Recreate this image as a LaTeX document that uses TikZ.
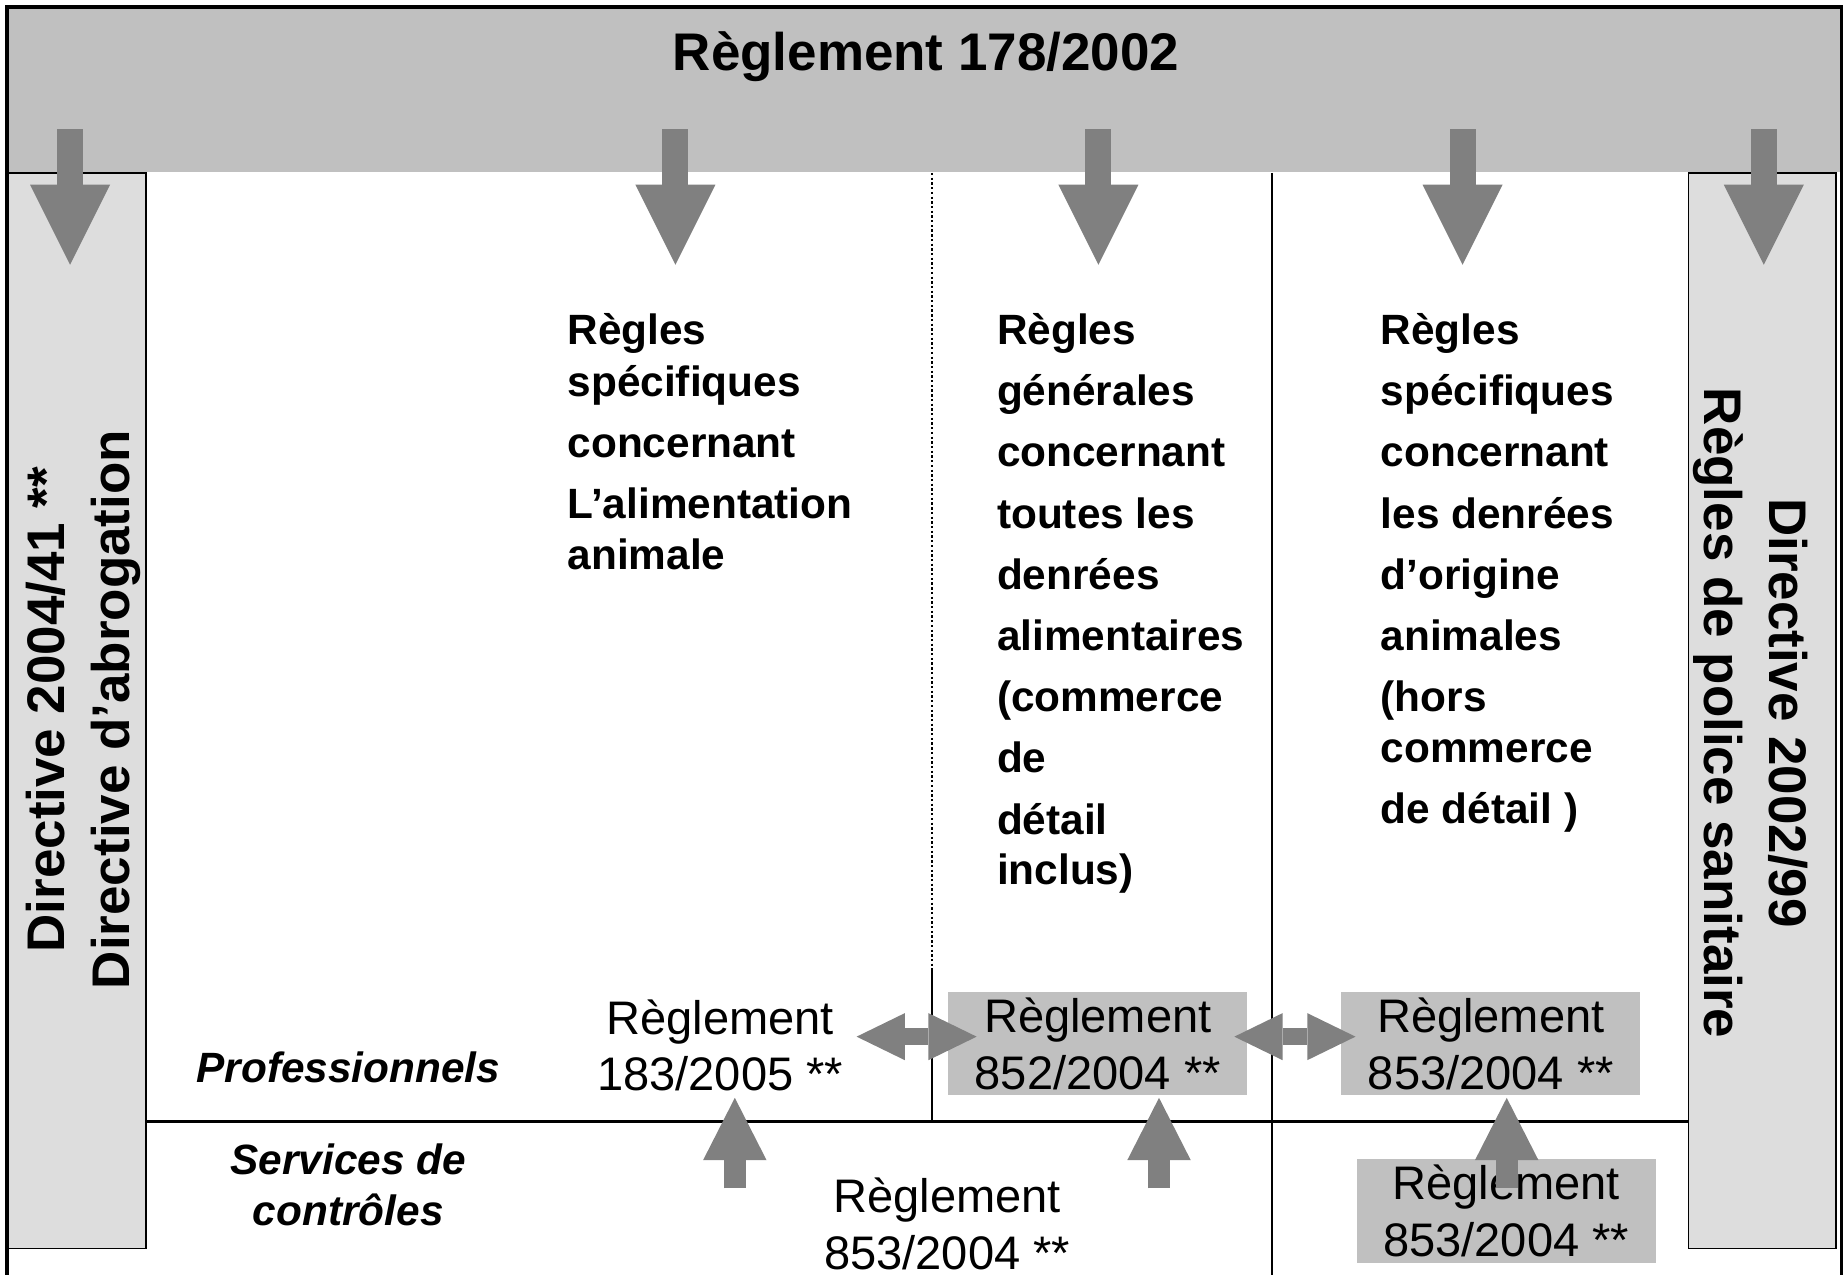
\documentclass[tikz,border=0pt]{standalone}
\usepackage{fontspec}
\setmainfont{Liberation Sans}
\usetikzlibrary{arrows.meta, positioning}
\definecolor{bannergray}{RGB}{192,192,192}
\definecolor{sidegray}{RGB}{221,221,221}
\definecolor{arrowgray}{RGB}{128,128,128}
\definecolor{boxgray}{RGB}{192,192,192}

\begin{document}
\begin{tikzpicture}[x=0.5pt, y=-0.5pt,
    downarrow/.style={draw=arrowgray, line width=11pt, -{Triangle[length=34pt, width=34pt, line width=0pt]}},
    uparrow/.style={draw=arrowgray, line width=9.5pt, -{Triangle[length=26.5pt, width=27pt, line width=0pt]}},
    dblarrow/.style={draw=arrowgray, line width=7pt, {Triangle[length=20.5pt, width=20pt, line width=0pt]}-{Triangle[length=20.5pt, width=20pt, line width=0pt]}},
    side/.style={fill=sidegray, draw=black, line width=0.8pt},
    rules/.style={anchor=north west, align=left, inner sep=0pt, font=\fontsize{18}{26}\selectfont\bfseries},
    reg/.style={align=center, inner sep=0pt, font=\fontsize{20}{24}\selectfont},
    regbox/.style={reg, fill=boxgray, minimum width=127pt, minimum height=44pt},
    vtitle/.style={align=center, inner sep=0pt, font=\fontsize{22.5}{27.5}\selectfont\bfseries},
    actor/.style={align=center, inner sep=0pt, font=\fontsize{18}{21.5}\selectfont\bfseries\itshape}]
    \useasboundingbox (0,0) rectangle (1568,1083);
    \clip (0,0) rectangle (1568,1083);

    % Frames
    \fill[bannergray] (6,6) rectangle (1565,146);
    \draw[side] (6,147) rectangle (124,1061);
    \draw[side] (1435,147) rectangle (1560,1061);
    \draw[line width=1.4pt] (6,6) rectangle (1565,1120);

    % Separators
    \draw[line width=1pt, dash pattern=on 1pt off 1pt] (792,147) -- (792,823);
    \draw[line width=1pt] (792,823) -- (792,953);
    \draw[line width=1pt] (1081,147) -- (1081,1120);
    \draw[line width=1.4pt] (124,953) -- (1435,953);

    % Labels
    \node[anchor=base, inner sep=0pt, font=\fontsize{22.5}{27}\selectfont\bfseries] (title) at (787,60) {Règlement 178/2002};
    \node[vtitle, rotate=90] (dir41) at (71,603) {Directive 2004/41 **\\Directive d’abrogation};
    \node[vtitle, rotate=-90] (dir99) at (1488,606) {Directive 2002/99\\Règles de police sanitaire};

    \node[rules] (feed) at (482,266) {Règles\\[-4pt] spécifiques\\[0pt] concernant\\ L’alimentation\\[-4.5pt] animale};
    \node[rules] (general) at (847,266) {Règles\\ générales\\ concernant\\ toutes les\\ denrées\\ alimentaires\\ (commerce\\ de\\ détail\\[-4.5pt] inclus)};
    \node[rules] (animal) at (1173,266) {Règles\\ spécifiques\\ concernant\\ les denrées\\ d’origine\\ animales\\ (hors\\[-4.5pt] commerce\\ de détail )};

    \node[actor, anchor=base] (pro) at (296,920) {Professionnels};
    \node[actor, anchor=north] (ctrl) at (296,972) {Services de\\ contrôles};

    % Regulations
    \node[reg, anchor=north] (r183) at (612,849) {Règlement\\ 183/2005 **};
    \node[regbox] (r852) at (933,887) {Règlement\\ 852/2004 **};
    \node[regbox] (r853a) at (1267,887) {Règlement\\ 853/2004 **};
    \node[reg, anchor=north] (r882) at (805,1001) {Règlement\\ 853/2004 **};
    \node[regbox] (r853b) at (1280,1029) {Règlement\\ 853/2004 **};

    % Arrows
    \coordinate (d1) at (59.5,110);  \coordinate (e1) at (59.5,225);
    \coordinate (d2) at (574,110);   \coordinate (e2) at (574,225);
    \coordinate (d3) at (933.5,110); \coordinate (e3) at (933.5,225);
    \coordinate (d4) at (1243,110);  \coordinate (e4) at (1243,225);
    \coordinate (d5) at (1499,110);  \coordinate (e5) at (1499,225);
    \draw[downarrow] (d1) -- (e1);
    \draw[downarrow] (d2) -- (e2);
    \draw[downarrow] (d3) -- (e3);
    \draw[downarrow] (d4) -- (e4);
    \draw[downarrow] (d5) -- (e5);

    \coordinate (u1) at (624.5,1010); \coordinate (v1) at (624.5,933);
    \coordinate (u2) at (985,1010);   \coordinate (v2) at (985,933);
    \coordinate (u3) at (1280.5,1010); \coordinate (v3) at (1280.5,933);
    \draw[uparrow] (u1) -- (v1);
    \draw[uparrow] (u2) -- (v2);
    \draw[uparrow] (u3) -- (v3);

    \coordinate (h1) at (728,881);  \coordinate (k1) at (830,881);
    \coordinate (h2) at (1049,881); \coordinate (k2) at (1152,881);
    \draw[dblarrow] (h1) -- (k1);
    \draw[dblarrow] (h2) -- (k2);
\end{tikzpicture}
\end{document}
